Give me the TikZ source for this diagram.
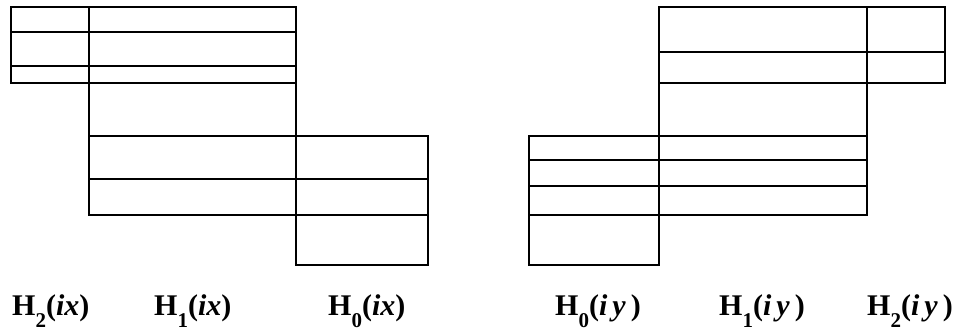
\documentclass[tikz,border=0pt]{standalone}
\usepackage{fontspec}
\setmainfont{Liberation Serif}
\newcommand{\HLab}[2]{\bfseries H\raisebox{-0.4em}{\fontsize{21bp}{21bp}\selectfont #1}(\textit{i}#2)}
\tikzset{
  box/.style={line width=2.8bp, line join=miter},
  lab/.style={anchor=base west, inner sep=0pt, font=\fontsize{30bp}{30bp}\selectfont}
}
\begin{document}
\begin{tikzpicture}[x=1bp,y=-1bp]
\useasboundingbox (0,0) rectangle (954,332);
% left diagram
\draw[box] (11,7) rectangle (89,83);
\foreach \yy in {32,66} \draw[box] (11,\yy) -- (89,\yy);
\draw[box] (89,7) rectangle (296,215);
\foreach \yy in {32,66,83,136,179} \draw[box] (89,\yy) -- (296,\yy);
\draw[box] (296,136) rectangle (428,265);
\foreach \yy in {179,215} \draw[box] (296,\yy) -- (428,\yy);
% right diagram
\draw[box] (529,136) rectangle (659,265);
\foreach \yy in {160,186,215} \draw[box] (529,\yy) -- (659,\yy);
\draw[box] (659,7) rectangle (867,215);
\foreach \yy in {52,83,136,160,186} \draw[box] (659,\yy) -- (867,\yy);
\draw[box] (867,7) rectangle (945,83);
\draw[box] (867,52) -- (945,52);
% labels
\node[lab] (h2x) at (12,315) {\HLab{2}{\textit{x}}};
\node[lab] (h1x) at (154,315) {\HLab{1}{\textit{x}}};
\node[lab] (h0x) at (328,315) {\HLab{0}{\textit{x}}};
\node[lab] (h0y) at (555,315) {\HLab{0}{\,\textit{y}\,}};
\node[lab] (h1y) at (719,315) {\HLab{1}{\,\textit{y}\,}};
\node[lab] (h2y) at (867,315) {\HLab{2}{\,\textit{y}\,}};
\end{tikzpicture}
\end{document}
